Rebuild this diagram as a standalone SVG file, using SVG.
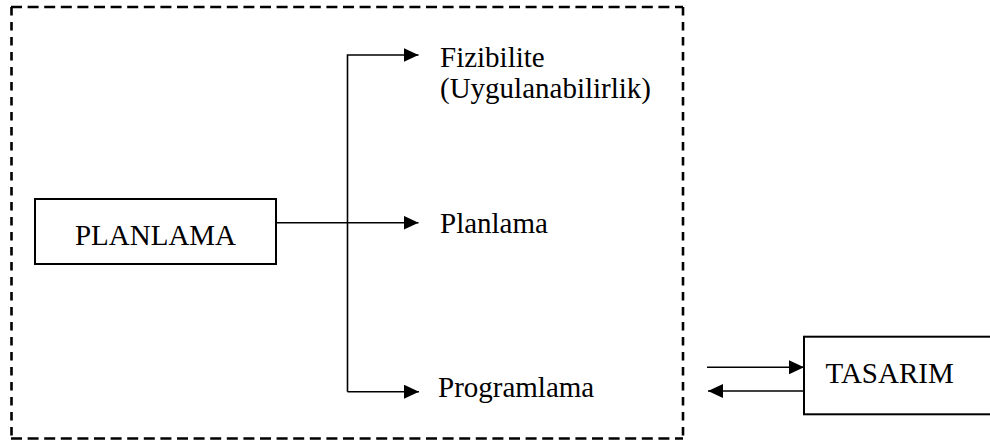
<svg xmlns="http://www.w3.org/2000/svg" width="990" height="444" viewBox="0 0 990 444">
  <style>
    .lbl { font-size: 29px; fill: #000; }
    .box { fill: #fff; stroke: #000; stroke-width: 2; }
    .wire { fill: none; stroke: #000; stroke-width: 1.6; }
    .dash-h { stroke: #000; stroke-width: 2.6; stroke-dasharray: 11 5.6; fill: none; }
    .dash-v { stroke: #000; stroke-width: 2.6; stroke-dasharray: 8.5 6.5; fill: none; }
  </style>
  <defs>
    <marker id="head" markerUnits="userSpaceOnUse" markerWidth="16" markerHeight="14" refX="15" refY="7" orient="auto">
      <path d="M0,0 L15,7 L0,14 Z" fill="#000"/>
    </marker>
  </defs>
  <rect width="990" height="444" fill="#fff"/>

  <!-- dashed frame around the planning stage -->
  <g id="frame">
    <line class="dash-h" x1="11" y1="7" x2="683" y2="7"/>
    <line class="dash-h" x1="11" y1="438.5" x2="683" y2="438.5"/>
    <line class="dash-v" x1="11.5" y1="7" x2="11.5" y2="439"/>
    <line class="dash-v" x1="683" y1="7" x2="683" y2="439"/>
  </g>

  <g id="connectors">
    <path class="wire" d="M347.5,391.7 V55 H418.5" marker-end="url(#head)"/>
    <line class="wire" x1="276" y1="222.7" x2="418.5" y2="222.7" marker-end="url(#head)"/>
    <line class="wire" x1="347.5" y1="391.7" x2="419" y2="391.7" marker-end="url(#head)"/>
    <line class="wire" x1="707" y1="367.3" x2="804" y2="367.3" marker-end="url(#head)"/>
    <line class="wire" x1="804" y1="391" x2="708" y2="391" marker-end="url(#head)"/>
  </g>

  <g font-family="'Liberation Serif', 'Times New Roman', 'DejaVu Serif', serif">
    <g id="planlama-box">
      <rect class="box" x="35" y="199" width="241" height="65"/>
      <text class="lbl" x="155.5" y="245" text-anchor="middle">PLANLAMA</text>
    </g>

    <g id="fizibilite">
      <text class="lbl" x="440" y="66.7">Fizibilite</text>
      <text class="lbl" x="440" y="98.3">(Uygulanabilirlik)</text>
    </g>

    <g id="planlama">
      <text class="lbl" x="440" y="233">Planlama</text>
    </g>

    <g id="programlama">
      <text class="lbl" x="438" y="396.7">Programlama</text>
    </g>

    <g id="tasarim-box">
      <rect class="box" x="804" y="336.7" width="200" height="77.6"/>
      <text class="lbl" x="825.5" y="383.3">TASARIM</text>
    </g>
  </g>
</svg>
